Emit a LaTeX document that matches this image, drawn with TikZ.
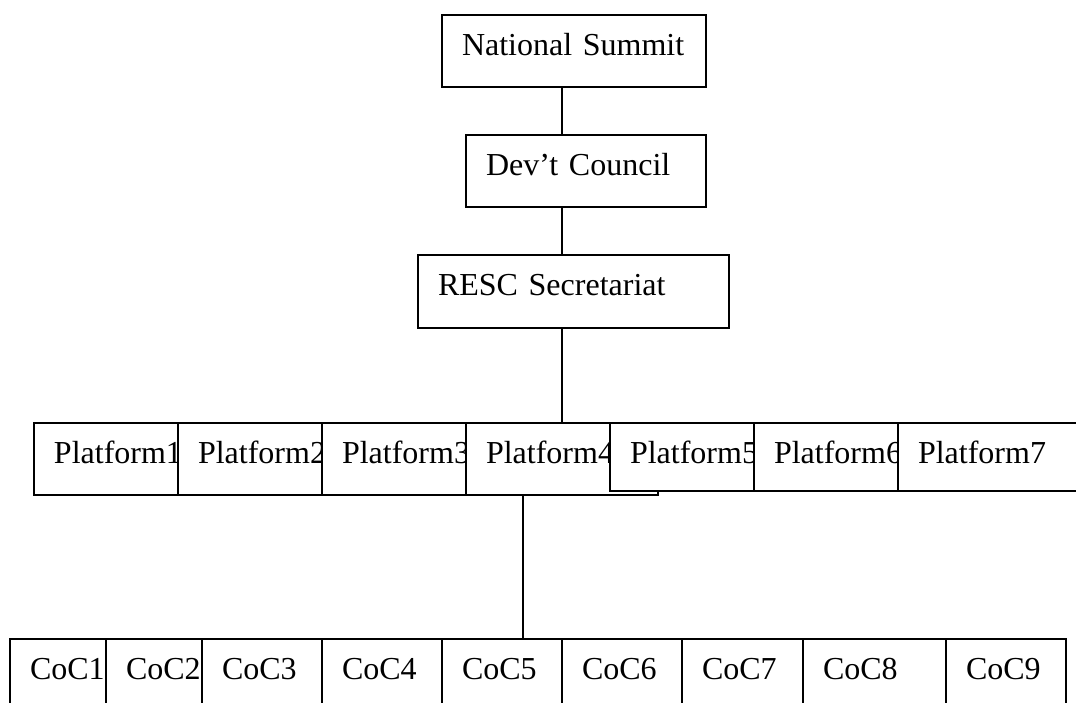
\documentclass[tikz,border=0pt]{standalone}
\usepackage{fontspec}
\setmainfont{Liberation Serif}
\usetikzlibrary{positioning}

\begin{document}
\begin{tikzpicture}[x=0.5pt, y=-0.5pt, line width=1pt,
    org/.style={draw, fill=white, anchor=north west, outer sep=0pt,
      inner xsep=10pt, inner ysep=0pt, align=left, text width=#1,
      text height=20pt, text depth=16pt,
      font=\fontsize{16pt}{19pt}\selectfont}]
    \useasboundingbox (0,0) rectangle (1076,702);
    \clip (0,0) rectangle (1076,702);
    \fill[white] (0,0) rectangle (1076,702);
    % top of the chart
    \node[org=112pt] (ns) at (442,15) {National Summit};
    \node[org=100pt] (dev) at (466,135) {Dev’t Council};
    \node[org=135.5pt, text depth=16.5pt] (rs) at (418,255) {RESC Secretariat};
    % platforms
    \node[org=52pt] (p1) at (34,423) {Platform1};
    \node[org=52pt, right=0pt of p1] (p2) {Platform2};
    \node[org=52pt, right=0pt of p2] (p3) {Platform3};
    \node[org=76pt, right=0pt of p3] (p4) {Platform4};
    \node[org=52pt, text depth=14pt] (p5) at (610,423) {Platform5};
    \node[org=52pt, text depth=14pt, right=0pt of p5] (p6) {Platform6};
    \node[org=80pt, text depth=14pt, right=0pt of p6] (p7) {Platform7};
    % CoCs
    \node[org=28pt] (c1) at (10,639) {CoC1};
    \node[org=28pt, right=0pt of c1] (c2) {CoC2};
    \node[org=40pt, right=0pt of c2] (c3) {CoC3};
    \node[org=40pt, right=0pt of c3] (c4) {CoC4};
    \node[org=40pt, right=0pt of c4] (c5) {CoC5};
    \node[org=40pt, right=0pt of c5] (c6) {CoC6};
    \node[org=40.5pt, right=0pt of c6] (c7) {CoC7};
    \node[org=51.5pt, right=0pt of c7] (c8) {CoC8};
    \node[org=40pt, right=0pt of c8] (c9) {CoC9};
    % links
    \coordinate (spine) at (562,0);
    \coordinate (drop) at (523,0);
    \draw (ns.south -| spine) -- (dev.north -| spine);
    \draw (dev.south -| spine) -- (rs.north -| spine);
    \draw (rs.south -| spine) -- (p4.north -| spine);
    \draw (p4.south -| drop) -- (c5.north -| drop);
\end{tikzpicture}
\end{document}
